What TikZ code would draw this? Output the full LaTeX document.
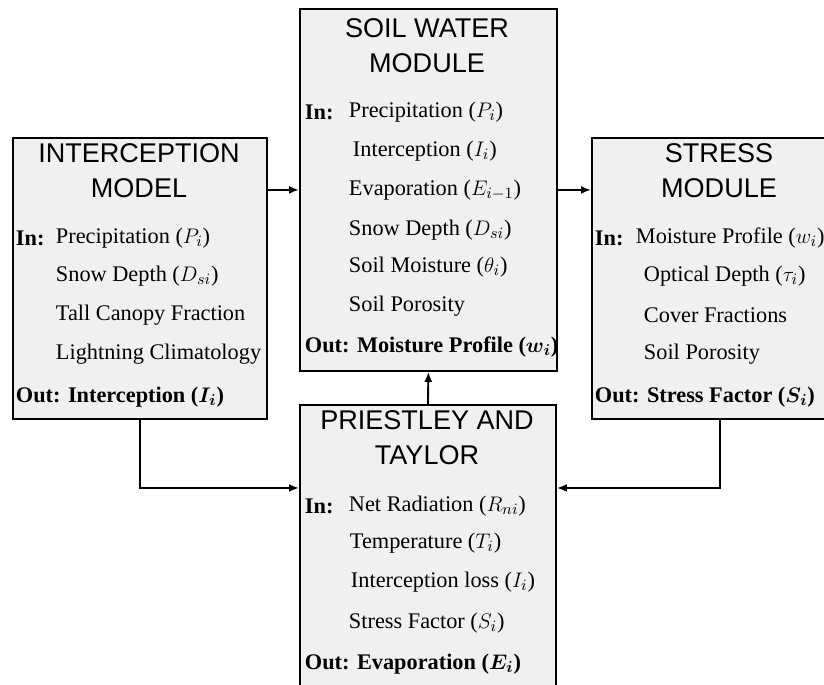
\documentclass[tikz,border=0pt]{standalone}
\usepackage{amsmath}
\usepackage{fontspec}
\usetikzlibrary{arrows.meta}
\setmainfont{Liberation Serif}
\newfontfamily\headfont{Liberation Sans}
\newcommand{\modfont}{\headfont\fontsize{15.4}{19.9}\selectfont}
\newcommand{\lnfont}{\fontsize{12.7}{15}\selectfont}

\begin{document}
\begin{tikzpicture}[x=0.02cm,y=-0.02cm,>={Latex[length=2mm,width=1.6mm]},line width=1.1pt,
    modbox/.style={draw=black,fill=black!6,anchor=north west,inner sep=0pt},
    modttl/.style={font=\modfont,align=center,inner sep=0pt},
    lntxt/.style={font=\lnfont,anchor=west,inner sep=0pt},
    lnin/.style={font=\lnfont\bfseries,anchor=west,inner sep=0pt}]
        \useasboundingbox (0,0) rectangle (824,685);
        \clip (0,0) rectangle (824,685);

        % the four modules
        \node[modbox,minimum width=5.08cm,minimum height=5.62cm] (intbox) at (12,137) {};
        \node[modbox,minimum width=5.14cm,minimum height=7.24cm] (soilbox) at (299,8) {};
        \node[modbox,minimum width=5.12cm,minimum height=5.62cm] (stressbox) at (591,137) {};
        \node[modbox,minimum width=5.12cm,minimum height=6.4cm] (ptbox) at (299,404) {};

        % flows between modules
        \coordinate (ptleft) at ([yshift=-1.68cm]ptbox.north west);
        \coordinate (ptright) at ([yshift=-1.68cm]ptbox.north east);
        \draw[->] (intbox.east |- soilbox.west) -- (soilbox.west);
        \draw[->] (soilbox.east) -- (stressbox.west |- soilbox.east);
        \draw[->] (ptbox.north) -- (soilbox.south);
        \draw[->] (intbox.south) |- (ptleft);
        \draw[->] (stressbox.south) |- (ptright);

        % interception model
        \node[modttl] (intttl) at (139,171) {INTERCEPTION\\MODEL};
        \node[lnin] (intin) at (15,238) {In:};
        \foreach \n/\yy/\txt in
            {1/238/{Precipitation ($P_i$)},2/276/{Snow Depth ($D_{si}$)},
             3/315/{Tall Canopy Fraction},4/354/{Lightning Climatology}}
        {
            \node[lntxt] (intln\n) at (55,\yy) {\txt};
        }
        \node[lnin] (intout) at (15,397) {Out: Interception ($\boldsymbol{I_i}$)};

        % soil water module
        \node[modttl] (soilttl) at (427,46) {SOIL WATER\\MODULE};
        \node[lnin] (soilin) at (304,112) {In:};
        \foreach \n/\xx/\yy/\txt in
            {1/348/112/{Precipitation ($P_i$)},2/352/151/{Interception ($I_i$)},
             3/348/190/{Evaporation ($E_{i-1}$)},4/348/230/{Snow Depth ($D_{si}$)},
             5/348/267/{Soil Moisture ($\theta_i$)},6/348/306/{Soil Porosity}}
        {
            \node[lntxt] (soilln\n) at (\xx,\yy) {\txt};
        }
        \node[lnin] (soilout) at (304,347) {Out: Moisture Profile ($\boldsymbol{w_i}$)};

        % stress module
        \node[modttl] (stressttl) at (719,171) {STRESS\\MODULE};
        \node[lnin] (stressin) at (594,238) {In:};
        \foreach \n/\xx/\yy/\txt in
            {1/635/238/{Moisture Profile ($w_i$)},2/643/276/{Optical Depth ($\tau_i$)},
             3/643/315/{Cover Fractions},4/643/354/{Soil Porosity}}
        {
            \node[lntxt] (stressln\n) at (\xx,\yy) {\txt};
        }
        \node[lnin] (stressout) at (594,397) {Out: Stress Factor ($\boldsymbol{S_i}$)};

        % priestley and taylor
        \node[modttl] (ptttl) at (427,438) {PRIESTLEY AND\\TAYLOR};
        \node[lnin] (ptin) at (304,506) {In:};
        \foreach \n/\xx/\yy/\txt in
            {1/348/506/{Net Radiation ($R_{ni}$)},2/349/543/{Temperature ($T_i$)},
             3/350/582/{Interception loss ($I_i$)},4/348/623/{Stress Factor ($S_i$)}}
        {
            \node[lntxt] (ptln\n) at (\xx,\yy) {\txt};
        }
        \node[lnin] (ptout) at (304,664) {Out: Evaporation ($\boldsymbol{E_i}$)};
    \end{tikzpicture}
\end{document}
